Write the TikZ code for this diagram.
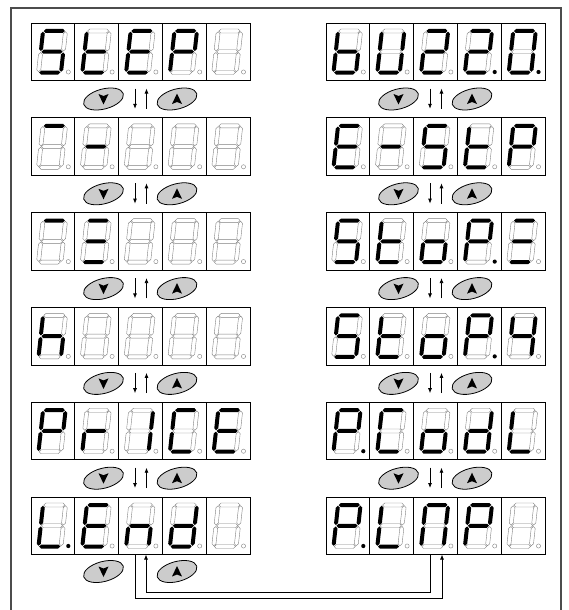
\documentclass[tikz,border=0pt]{standalone}
\usetikzlibrary{arrows.meta,shapes.geometric}
\tikzset{
  cell/.style={draw=black, line width=0.7pt, minimum width=43.8pt, minimum height=57.5pt, inner sep=0pt, outer sep=0pt, anchor=north west},
  segon/.style={fill=black},
  segoff/.style={draw=black!50, line width=0.4pt},
  dpoff/.style={draw=black!50, line width=0.4pt},
  dpon/.style={fill=black},
  btn/.style={ellipse, draw=black, line width=0.8pt, fill=black!20, minimum width=41pt, minimum height=20pt, rotate=15, inner sep=0pt},
  tri/.style={fill=black},
  flow/.style={line width=0.8pt, -{Latex[length=5pt,width=4pt]}},
  frameline/.style={draw=black!70, line width=1.1pt}
}
\def\SW{22.5}
\newcommand\HS[1]{(0.7,#1) -- (2.7,{#1+2}) -- ({\SW-2.7},{#1+2}) -- ({\SW-0.7},#1) -- ({\SW-2.7},{#1-2}) -- (2.7,{#1-2}) -- cycle}
\newcommand\VS[3]{(#1,{#2+0.7}) -- ({#1+2},{#2+2.7}) -- ({#1+2},{#3-2.7}) -- (#1,{#3-0.7}) -- ({#1-2},{#3-2.7}) -- ({#1-2},{#2+2.7}) -- cycle}
\newcommand\Seg[2]{\ifnum#1=1 \fill[segon] #2; \else \draw[segoff] #2; \fi}
\newcommand\Digit[3]{\DigitAux{#1}{#3}#2\relax}
\def\DigitAux#1#2#3#4#5#6#7#8#9\relax{%
  \begin{scope}[shift={([shift={(7.5,-8)}]#1.south west)}, xslant=0.11, yscale=-1]
    \Seg{#3}{\HS{41.5}}
    \Seg{#4}{\VS{\SW}{20.75}{41.5}}
    \Seg{#5}{\VS{\SW}{0}{20.75}}
    \Seg{#6}{\HS{0}}
    \Seg{#7}{\VS{0}{0}{20.75}}
    \Seg{#8}{\VS{0}{20.75}{41.5}}
    \Seg{#9}{\HS{20.75}}
  \end{scope}
  \ifnum#2=1 \fill[dpon] ([shift={(37.3,-8.5)}]#1.south west) circle (2.1);
  \else\ifnum#2=0 \draw[dpoff] ([shift={(37.3,-8.5)}]#1.south west) circle (2.1);\fi\fi
}
\newcommand\DownBtn[2]{\node[btn] (#1) at #2 {};
  \fill[tri] (#1.center) ++(-5,-5) -- ++(5,2) -- ++(5,-2) -- ++(-5,10.5) -- cycle;}
\newcommand\UpBtn[2]{\node[btn] (#1) at #2 {};
  \fill[tri] (#1.center) ++(-5,5) -- ++(5,-2) -- ++(5,2) -- ++(-5,-10.5) -- cycle;}
\begin{document}
\begin{tikzpicture}[x=1pt,y=-1pt]
\useasboundingbox (0,0) rectangle (568,610);
\draw[frameline] (11,610) -- (11,8) -- (561,8) -- (561,610);
% display cells
\foreach \r/\y in {1/23,2/117.8,3/212.6,4/307.4,5/402.2,6/497}{
  \foreach \c in {1,...,5}{
    \node[cell] (L\r-\c) at ({31+(\c-1)*43.8},\y) {};
    \node[cell] (R\r-\c) at ({326+(\c-1)*43.8},\y) {};
  }
}
% row 1
\Digit{L1-1}{1011011}{0}\Digit{L1-2}{0001111}{0}\Digit{L1-3}{1001111}{0}\Digit{L1-4}{1100111}{0}\Digit{L1-5}{0000000}{0}
\Digit{R1-1}{0011111}{0}\Digit{R1-2}{0111110}{0}\Digit{R1-3}{1101101}{0}\Digit{R1-4}{1101101}{1}\Digit{R1-5}{1111110}{1}
% row 2
\Digit{L2-1}{1000000}{0}\Digit{L2-2}{0000001}{0}\Digit{L2-3}{0000000}{0}\Digit{L2-4}{0000000}{0}\Digit{L2-5}{0000000}{0}
\Digit{R2-1}{1001111}{0}\Digit{R2-2}{0000001}{0}\Digit{R2-3}{1011011}{0}\Digit{R2-4}{0001111}{0}\Digit{R2-5}{1100111}{0}
% row 3
\Digit{L3-1}{1000000}{0}\Digit{L3-2}{1001001}{0}\Digit{L3-3}{0000000}{0}\Digit{L3-4}{0000000}{0}\Digit{L3-5}{0000000}{0}
\Digit{R3-1}{1011011}{0}\Digit{R3-2}{0001111}{0}\Digit{R3-3}{0011101}{0}\Digit{R3-4}{1100111}{1}\Digit{R3-5}{1001001}{0}
% row 4
\Digit{L4-1}{0010111}{0}\Digit{L4-2}{0000000}{0}\Digit{L4-3}{0000000}{0}\Digit{L4-4}{0000000}{0}\Digit{L4-5}{0000000}{0}
\Digit{R4-1}{1011011}{0}\Digit{R4-2}{0001111}{0}\Digit{R4-3}{0011101}{0}\Digit{R4-4}{1100111}{1}\Digit{R4-5}{0110011}{0}
% row 5
\Digit{L5-1}{1100111}{2}\Digit{L5-2}{0000101}{0}\Digit{L5-3}{0110000}{0}\Digit{L5-4}{1001110}{0}\Digit{L5-5}{1001111}{0}
\Digit{R5-1}{1100111}{1}\Digit{R5-2}{1001110}{0}\Digit{R5-3}{0011101}{0}\Digit{R5-4}{0111101}{0}\Digit{R5-5}{0001110}{0}
% row 6
\Digit{L6-1}{0001110}{1}\Digit{L6-2}{1001111}{0}\Digit{L6-3}{0010101}{0}\Digit{L6-4}{0111101}{0}\Digit{L6-5}{0000000}{0}
\Digit{R6-1}{1100111}{1}\Digit{R6-2}{0001110}{0}\Digit{R6-3}{1110110}{0}\Digit{R6-4}{1100111}{0}\Digit{R6-5}{0000000}{0}
% buttons and arrows between rows
\foreach \r [evaluate=\r as \n using int(\r+1)] in {1,...,5}{
  \foreach \s in {L,R}{
    \DownBtn{\s dn\r}{([xshift=-37pt,yshift=-18.5pt]\s\r-3.south)}
    \UpBtn{\s up\r}{([xshift=36.5pt,yshift=-18.5pt]\s\r-3.south)}
    \draw[flow] ([xshift=-5.5pt,yshift=-8pt]\s\r-3.south) -- ([xshift=-5.5pt,yshift=9pt]\s\n-3.north);
    \draw[flow] ([xshift=6pt,yshift=9pt]\s\n-3.north) -- ([xshift=6pt,yshift=-8pt]\s\r-3.south);
  }
}
\DownBtn{Ldn6}{([xshift=-37pt,yshift=-17pt]L6-3.south)}
\UpBtn{Lup6}{([xshift=36.5pt,yshift=-17pt]L6-3.south)}
% loop connectors between L.End and P.LnP
\draw[flow] ([xshift=-5.5pt]L6-3.south) -- ++(0,44) -| ([xshift=6.5pt]R6-3.south);
\draw[flow] ([xshift=-5.5pt]R6-3.south) -- ++(0,38) -| ([xshift=5.5pt]L6-3.south);
\end{tikzpicture}
\end{document}
